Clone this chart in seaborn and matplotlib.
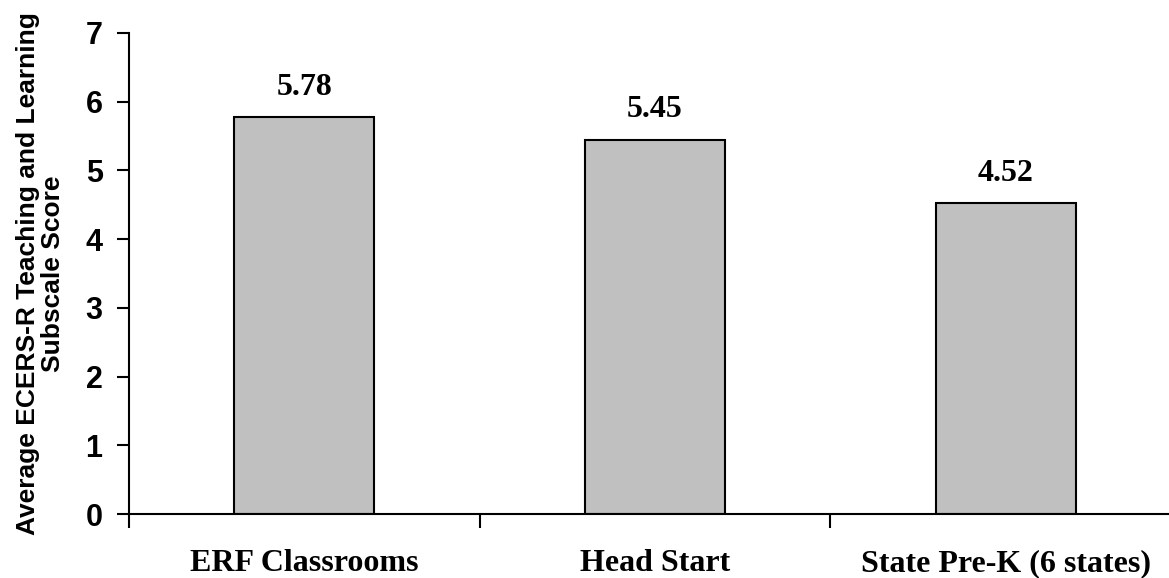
import matplotlib
matplotlib.use("Agg")
import matplotlib.pyplot as plt
import seaborn as sns
import pandas as pd
from matplotlib.ticker import FixedLocator

categories = ["ERF Classrooms", "Head Start", "State Pre-K (6 states)"]
scores = [5.78, 5.45, 4.52]
value_labels = ["5.78", "5.45", "4.52"]
y_ticks = [0, 1, 2, 3, 4, 5, 6, 7]
y_label = "Average ECERS-R Teaching and Learning\nSubscale Score"

sns.set_style("white")
plt.rcParams['font.family'] = ['Liberation Sans', 'DejaVu Sans']
plt.rcParams['text.color'] = 'black'
plt.rcParams['axes.labelcolor'] = 'black'
plt.rcParams['xtick.color'] = 'black'
plt.rcParams['ytick.color'] = 'black'

df = pd.DataFrame({"cat": categories, "score": scores})

fig = plt.figure(figsize=(11.69, 5.78), dpi=100)
ax = fig.add_axes([129/1169, 1 - 514/578, 1052/1169, 481/578])

sns.barplot(data=df, x="cat", y="score", color="#c0c0c0", edgecolor="black",
            linewidth=1.5, width=0.4, saturation=1, ax=ax)

ax.set_ylim(0, 7)
ax.set_xlim(-0.5, 2.5)
ax.set_yticks(y_ticks)
ax.set_yticklabels([str(t) for t in y_ticks], fontsize=22, fontweight="bold",
                   family=['Liberation Sans', 'DejaVu Sans'])

# major x ticks at category boundaries, labels on minor ticks
ax.xaxis.set_major_locator(FixedLocator([-0.5, 0.5, 1.5, 2.5]))
ax.set_xticklabels([])
ax.xaxis.set_minor_locator(FixedLocator([0, 1, 2]))
ax.set_xticklabels(categories, minor=True, fontsize=23, fontweight="bold",
                   family=['Liberation Serif', 'DejaVu Serif'])
ax.tick_params(axis="x", which="major", direction="out", length=10, width=1.5, color="black", bottom=True)
ax.tick_params(axis="x", which="minor", length=0, pad=25)
ax.tick_params(axis="y", direction="out", length=9, width=1.5, color="black", left=True, pad=10)

ax.set_xlabel("")
ax.set_ylabel(y_label, fontsize=19, fontweight="bold", linespacing=1.05,
              family=['Liberation Sans', 'DejaVu Sans'], labelpad=15)

for spine in ["top", "right"]:
    ax.spines[spine].set_visible(False)
for spine in ["left", "bottom"]:
    ax.spines[spine].set_color("black")
    ax.spines[spine].set_linewidth(1.5)

for i, (v, lab) in enumerate(zip(scores, value_labels)):
    ax.annotate(lab, xy=(i, v), xytext=(0, 16), textcoords="offset points",
                ha="center", va="baseline", fontsize=23, fontweight="bold",
                family=['Liberation Serif', 'DejaVu Serif'])

fig.savefig("out.png", dpi=100)
